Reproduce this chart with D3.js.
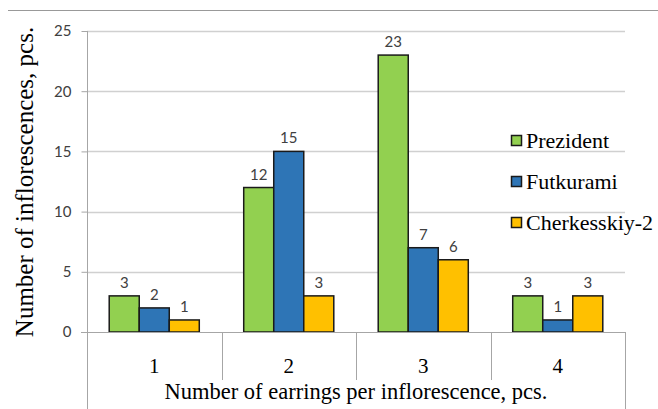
<!DOCTYPE html>
<html><head><meta charset="utf-8">
<script src="https://cdn.jsdelivr.net/npm/d3@7"></script>
<style>body{margin:0;background:#fff}svg{display:block}</style>
</head><body>
<svg id="c" width="658" height="409"></svg>
<script>
const categories = ["1", "2", "3", "4"];
const seriesNames = ["Prezident", "Futkurami", "Cherkesskiy-2"];
const prezident = [3, 12, 23, 3];
const futkurami = [2, 15, 7, 1];
const cherkesskiy = [1, 3, 6, 3];
const yTicks = [0, 5, 10, 15, 20, 25];
const colors = ["#92D050", "#2E75B6", "#FFC000"];
const seriesValues = [prezident, futkurami, cherkesskiy];

const svg = d3.select("#c");
const pLeft = 87, pRight = 625, pTop = 31, pBottom = 332;
const x = d3.scaleBand().domain(categories).range([pLeft, pRight]).padding(0);
const inner = d3.scaleBand().domain(seriesNames).range([0, x.bandwidth()]).paddingInner(0).paddingOuter(0.74);
const y = d3.scaleLinear().domain([0, 25]).range([pBottom, pTop]);

// top frame line
svg.append("line").attr("x1", 8).attr("x2", 658).attr("y1", 10.5).attr("y2", 10.5).attr("stroke", "#999").attr("stroke-width", 1);

// gridlines
svg.append("g").selectAll("line").data(yTicks.filter(d => d > 0)).join("line")
  .attr("x1", pLeft).attr("x2", pRight).attr("y1", d => Math.round(y(d)) + 0.5).attr("y2", d => Math.round(y(d)) + 0.5)
  .attr("stroke", "#d0d0d0").attr("stroke-width", 1.5);

// y axis
const yAxis = svg.append("g").attr("transform", `translate(${pLeft + 0.5},0)`)
  .call(d3.axisLeft(y).tickValues(yTicks).tickSize(6).tickPadding(10).tickSizeOuter(0));
yAxis.select(".domain").remove();
yAxis.selectAll(".tick line").attr("stroke", "#a6a6a6");
yAxis.selectAll(".tick text").attr("font-family", "Lato, 'Open Sans', sans-serif").attr("font-size", 15).attr("fill", "#404040");
svg.append("line").attr("x1", pLeft + 0.5).attr("x2", pLeft + 0.5).attr("y1", pTop).attr("y2", 409).attr("stroke", "#a6a6a6");

// bars
const groups = svg.append("g").selectAll("g").data(categories).join("g")
  .attr("transform", d => `translate(${x(d)},0)`);
groups.selectAll("rect").data((d, i) => seriesNames.map((s, j) => ({s, j, v: seriesValues[j][i]}))).join("rect")
  .attr("x", d => inner(d.s)).attr("width", inner.bandwidth())
  .attr("y", d => y(d.v)).attr("height", d => y(0) - y(d.v))
  .attr("fill", d => colors[d.j]).attr("stroke", "#1a1a1a").attr("stroke-width", 1.5);
groups.selectAll("text").data((d, i) => seriesNames.map((s, j) => ({s, j, v: seriesValues[j][i]}))).join("text")
  .attr("x", d => inner(d.s) + inner.bandwidth() / 2).attr("y", d => y(d.v) - 8)
  .attr("text-anchor", "middle").attr("font-family", "Lato, 'Open Sans', sans-serif").attr("font-size", 15).attr("fill", "#404040")
  .text(d => d.v);

// x axis line and category table
svg.append("line").attr("x1", pLeft - 6).attr("x2", pRight).attr("y1", pBottom + 0.5).attr("y2", pBottom + 0.5).attr("stroke", "#a6a6a6");
svg.append("g").selectAll("line").data(categories.slice(1)).join("line")
  .attr("x1", d => Math.round(x(d)) + 0.5).attr("x2", d => Math.round(x(d)) + 0.5).attr("y1", pBottom).attr("y2", 380)
  .attr("stroke", "#a6a6a6");
svg.append("line").attr("x1", pRight + 0.5).attr("x2", pRight + 0.5).attr("y1", pBottom).attr("y2", 409).attr("stroke", "#a6a6a6");
svg.append("g").selectAll("text").data(categories).join("text")
  .attr("x", d => x(d) + x.bandwidth() / 2).attr("y", 373).attr("text-anchor", "middle")
  .attr("font-family", "'Liberation Serif', serif").attr("font-size", 21).attr("fill", "#000").text(d => d);
svg.append("text").attr("x", (pLeft + pRight) / 2).attr("y", 399).attr("text-anchor", "middle")
  .attr("font-family", "'Liberation Serif', serif").attr("font-size", 22.5).attr("fill", "#000")
  .text("Number of earrings per inflorescence, pcs.");

// y title
svg.append("text").attr("transform", "translate(33,182) rotate(-90)").attr("text-anchor", "middle")
  .attr("font-family", "'Liberation Serif', serif").attr("font-size", 25).attr("fill", "#000")
  .text("Number of inflorescences, pcs.");

// legend
const lg = svg.append("g").selectAll("g").data(seriesNames).join("g")
  .attr("transform", (d, i) => `translate(511,${142 + i * 41})`);
lg.append("rect").attr("x", 0.5).attr("y", -6.5).attr("width", 10).attr("height", 10)
  .attr("fill", (d, i) => colors[i]).attr("stroke", "#1a1a1a").attr("stroke-width", 1.5);
lg.append("text").attr("x", 15).attr("y", 6).attr("font-family", "'Liberation Serif', serif").attr("font-size", 22).attr("fill", "#000").text(d => d);
</script>
</body></html>
